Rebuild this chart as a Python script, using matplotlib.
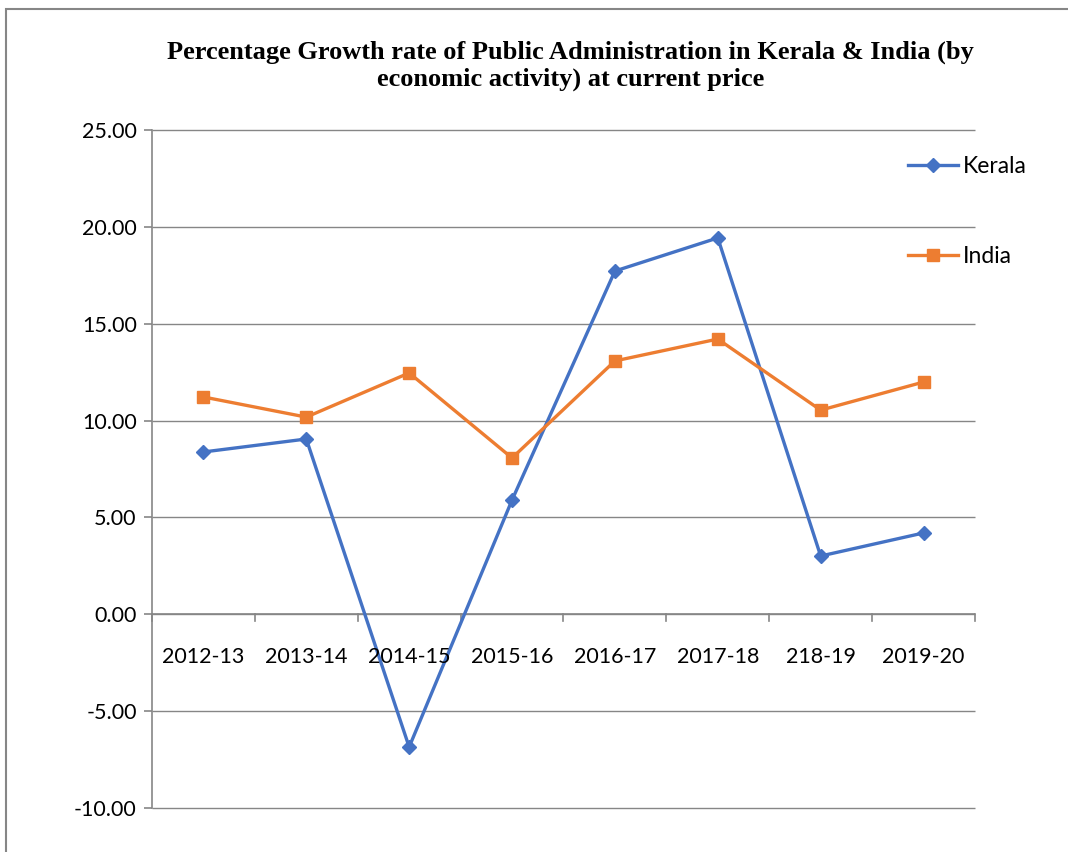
import numpy as np
import matplotlib.pyplot as plt
from matplotlib.patches import Rectangle

years = ['2012-13', '2013-14', '2014-15', '2015-16', '2016-17', '2017-18', '218-19', '2019-20']
kerala = [8.38, 9.05, -6.85, 5.90, 17.72, 19.43, 3.01, 4.20]
india = [11.22, 10.18, 12.46, 8.07, 13.08, 14.21, 10.54, 11.99]

blue = '#4472C4'
orange = '#ED7D31'
grey = '#868686'

fig = plt.figure(figsize=(10.68, 8.52), dpi=100)
ax = fig.add_axes([0.1423, 0.0516, 0.7706, 0.7958])

x = np.arange(len(years))
ax.plot(x, kerala, color=blue, lw=2.4, marker='D', ms=7, label='Kerala', zorder=3)
ax.plot(x, india, color=orange, lw=2.4, marker='s', ms=8, label='India', zorder=3)

ax.set_xlim(-0.5, len(years) - 0.5)
ax.set_ylim(-10, 25)
yt = np.arange(-10, 26, 5)
ax.set_yticks(yt)
ax.set_yticklabels([f'{v:.2f}' for v in yt], fontsize=15.5, family='Lato')
# horizontal gridlines, unclipped so the bottom one is drawn in full
ax.hlines(yt, -0.5, len(years) - 0.5, color=grey, lw=1, zorder=1, clip_on=False)
for s in ['top', 'right', 'bottom']:
    ax.spines[s].set_visible(False)
ax.spines['left'].set_color(grey)
ax.spines['left'].set_linewidth(1.2)
ax.tick_params(axis='y', length=6, color=grey, width=1.2, pad=5)

# category axis sits on the zero line, with labels just below it
ax.axhline(0, color=grey, lw=1.2, zorder=2)
ax.set_xticks([])
for i in range(len(years) + 1):
    ax.plot([i - 0.5, i - 0.5], [0, -0.35], color=grey, lw=1.2, clip_on=False, zorder=2)
for i, lab in enumerate(years):
    ax.text(i, -1.7, lab, ha='center', va='top', fontsize=15.5, family='Lato')

fig.text(0.534, 0.923, 'Percentage Growth rate of Public Administration in Kerala & India (by\neconomic activity) at current price',
         ha='center', va='center', fontsize=19, fontweight='bold', family='Liberation Serif',
         linespacing=1.2)

fig.legend(loc='upper left', bbox_to_anchor=(0.8307, 0.841), frameon=False,
           prop={'family': 'Lato', 'size': 16.5}, labelspacing=3.0, handlelength=2.2,
           handletextpad=0.2)

fig.patches.append(Rectangle((0.006, -0.1), 1.1, 1.09, transform=fig.transFigure,
                             fill=False, edgecolor=grey, lw=1.5))

fig.savefig('out.png', dpi=100)
